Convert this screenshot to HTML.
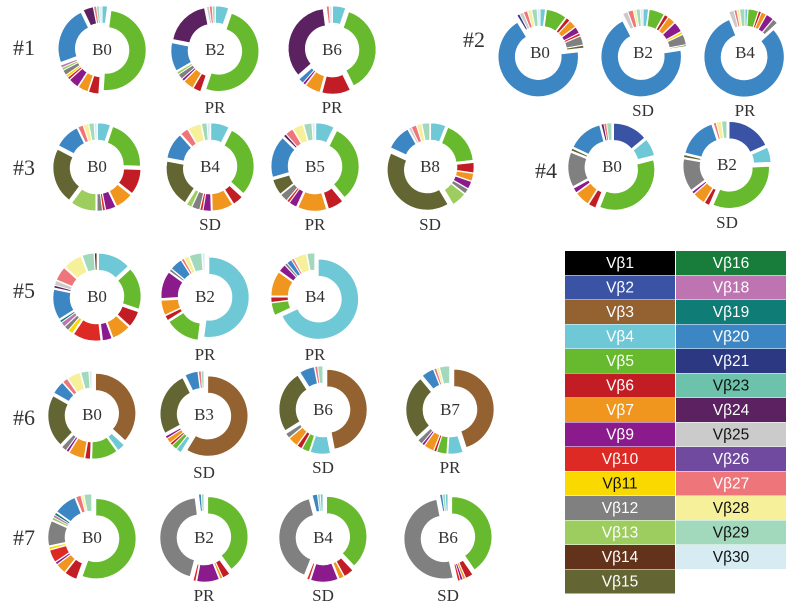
<!DOCTYPE html>
<html><head><meta charset="utf-8"><style>
html,body{margin:0;padding:0;background:#fff;width:787px;height:609px;overflow:hidden}
svg{display:block}
.lbl{font-family:"Liberation Serif",serif;fill:#333}
.lg{font-family:"Liberation Sans",sans-serif;font-size:15.5px}
</style></head><body>
<svg id="chart" width="787" height="609" viewBox="0 0 787 609"></svg>
<script>
const vbNames=[1,2,3,4,5,6,7,9,10,11,12,13,14,15,16,18,19,20,21,23,24,25,26,27,28,29,30];
const vbColors=["#000000","#3a53a4","#946130","#6fc8d6","#67b92e","#c21d25","#f0961e","#8b1a8c","#de2a24","#f9d900","#808080","#9dcc5f","#63321a","#636633","#187d3a","#bd74b1","#0f7c76","#3d86c4","#2c3982","#6cc2aa","#5c2160","#cbcbcb","#6f4a9f","#ee7579","#f6f09a","#a2d9bd","#d6ebf2"];
const darkText=[11,23,25,28,29,30];
const patientLabels=[["#1",13,50],["#2",463,42],["#3",13,170],["#4",535,173],["#5",13,293],["#6",13,420],["#7",13,540]];
const donutNames=["1-B0","1-B2","1-B6","2-B0","2-B2","2-B4","3-B0","3-B4","3-B5","3-B8","4-B0","4-B2","5-B0","5-B2","5-B4","6-B0","6-B3","6-B6","6-B7","7-B0","7-B2","7-B4","7-B6"];
const donutResponse=["","PR","PR","","SD","PR","","SD","PR","SD","","SD","","PR","PR","","SD","SD","PR","","PR","SD","SD"];
const donutValues=[
[[4,2],[5,48],[6,4],[7,4],[9,4],[10,1],[11,1],[12,2],[13,1],[18,1],[20,23],[24,4],[27,1],[29,1],[30,1]],
[[4,5],[5,48],[6,3],[7,4],[9,1],[12,2],[13,1],[20,11],[24,18],[25,1],[27,1],[29,1]],
[[4,5],[5,36],[6,11],[7,6],[9,1],[20,2],[24,33],[27,1],[30,1]],
[[4,2],[5,8],[6,1.5],[7,3],[9,2.5],[10,1],[12,3.5],[15,1],[20,66],[21,1],[25,1.5],[27,1.5],[28,1.5],[29,2],[30,1]],
[[4,2],[5,6],[6,1.5],[7,3],[9,4],[11,1],[12,4],[15,0.5],[20,68],[25,2],[27,2],[28,1],[29,1.5],[30,1]],
[[4,1],[5,4],[6,1],[7,2],[9,3],[12,2],[20,80],[25,2],[27,1],[28,1],[29,2]],
[[4,5],[5,20],[6,10],[7,7],[9,4],[10,1],[12,2],[13,10],[15,22],[20,10],[27,2],[28,2],[29,2],[30,1]],
[[4,7],[5,28],[6,4],[7,8],[9,3],[10,1],[12,3],[13,2],[15,18],[20,10],[27,3],[28,5],[29,2],[30,1]],
[[4,7],[5,30],[6,6],[7,11],[9,3],[10,1],[12,3],[15,6],[20,16],[24,1],[27,3],[28,4],[29,3],[30,1]],
[[4,6],[5,17],[6,4],[7,3],[9,3],[12,2],[13,6],[15,40],[20,10],[25,1],[27,2],[28,2],[29,3]],
[[2,14],[4,7],[5,35],[6,3],[7,6],[9,2],[12,14],[15,1],[20,14],[24,1],[27,1],[29,2]],
[[2,18],[4,6],[5,32],[6,2],[7,5],[9,1],[12,13],[15,1],[20,16],[27,1],[28,2],[29,2]],
[[4,14],[5,18],[6,7],[7,8],[9,4],[10,12],[11,2],[12,2],[18,2],[19,1],[20,13],[24,1],[25,2],[27,6],[28,8],[29,5],[14,1]],
[[4,52],[5,14],[6,2],[7,6],[9,11],[12,1],[20,5],[27,1],[28,2],[29,5],[30,1]],
[[4,68],[5,5],[6,2],[7,10],[9,3],[12,1],[20,2],[27,1],[28,5],[29,3]],
[[3,35],[4,3],[5,10],[6,2],[7,6],[9,1],[12,2],[15,20],[20,5],[27,2],[28,5],[29,3],[30,1]],
[[3,57],[4,2],[5,2],[6,1],[7,2],[9,1],[15,25],[20,5],[27,1],[29,1]],
[[3,47],[4,8],[5,3],[6,2],[7,4],[12,2],[15,25],[20,6],[27,1],[29,2]],
[[3,45],[4,6],[5,4],[6,1],[7,4],[9,1],[12,2],[15,26],[20,5],[27,1],[28,1],[29,4]],
[[5,55],[6,5],[7,4],[9,1],[10,5],[11,1],[12,10],[13,1],[18,1],[19,1],[20,9],[27,2],[28,1],[29,3]],
[[5,40],[6,3],[7,1],[9,9],[10,1],[12,44],[20,1],[29,1]],
[[5,38],[6,4],[7,2],[9,11],[10,1],[12,40],[20,2],[29,1],[4,1]],
[[5,40],[6,3],[7,1],[9,1],[10,1],[12,50],[20,1],[29,1],[4,1]]
];
const donutCenters=[[102,50],[215,50],[332,50],[540,53],[643,53],[745,53],[97,167],[210,167],[315,167],[430,167],[612,167],[727,165],[97,297],[205,297],[315,297],[92,415],[204,415],[323,410],[450,410],[92,538],[204,538],[323,538],[448,538]];
const svg=document.getElementById('chart');
const NS='http://www.w3.org/2000/svg';
const R_OUT=40,R_IN=23,EXPL=4;
function mk(t,a){const e=document.createElementNS(NS,t);for(const k in a)e.setAttribute(k,a[k]);return e;}
function pt(cx,cy,r,a){return [cx+r*Math.sin(a),cy-r*Math.cos(a)];}
patientLabels.forEach(p=>{
  const t=mk('text',{x:p[1],y:p[2],'font-size':22,class:'lbl','dominant-baseline':'middle'});
  
  
  t.textContent=p[0];svg.appendChild(t);
});
donutValues.forEach((vals,i)=>{
  const [cx,cy]=donutCenters[i];
  const g=mk('g',{});
  
  
  const tot=vals.reduce((s,v)=>s+v[1],0);
  let a=0;
  vals.forEach(v=>{
    const sw=v[1]/tot*2*Math.PI;
    const a0=a,a1=a+sw,m=(a0+a1)/2;a=a1;
    const ox=EXPL*Math.sin(m),oy=-EXPL*Math.cos(m);
    const x=cx+ox,y=cy+oy;
    const p1=pt(x,y,R_OUT,a0),p2=pt(x,y,R_OUT,a1),p3=pt(x,y,R_IN,a1),p4=pt(x,y,R_IN,a0);
    const lg=sw>Math.PI?1:0;
    const d=`M${p1[0]},${p1[1]}A${R_OUT},${R_OUT} 0 ${lg} 1 ${p2[0]},${p2[1]}L${p3[0]},${p3[1]}A${R_IN},${R_IN} 0 ${lg} 0 ${p4[0]},${p4[1]}Z`;
    const ci=vbNames.indexOf(v[0]);
    const p=mk('path',{d:d,fill:vbColors[ci],stroke:'#fff','stroke-width':0.6});
    
    
    g.appendChild(p);
  });
  const nm=donutNames[i].split('-')[1];
  const t=mk('text',{x:cx,y:cy+1,'font-size':17,class:'lbl','text-anchor':'middle','dominant-baseline':'middle'});
  
  
  t.textContent=nm;g.appendChild(t);
  if(donutResponse[i]){
    const r=mk('text',{x:cx,y:cy+59,'font-size':17,class:'lbl','text-anchor':'middle','dominant-baseline':'middle'});
    
    
    r.textContent=donutResponse[i];g.appendChild(r);
  }
  svg.appendChild(g);
});
const lgG=mk('g',{});


vbNames.forEach((n,i)=>{
  const col=i<14?0:1,row=i<14?i:i-14;
  const x=565+col*111,y=251+row*24.5;
  const r=mk('rect',{x:x,y:y,width:110,height:24,fill:vbColors[i]});
  
  
  lgG.appendChild(r);
  const t=mk('text',{x:x+55,y:y+13,class:'lg','text-anchor':'middle','dominant-baseline':'middle',fill:darkText.includes(n)?'#111':'#fff'});
  
  
  t.textContent='Vβ'+n;lgG.appendChild(t);
});
svg.appendChild(lgG);
</script>
</body></html>
